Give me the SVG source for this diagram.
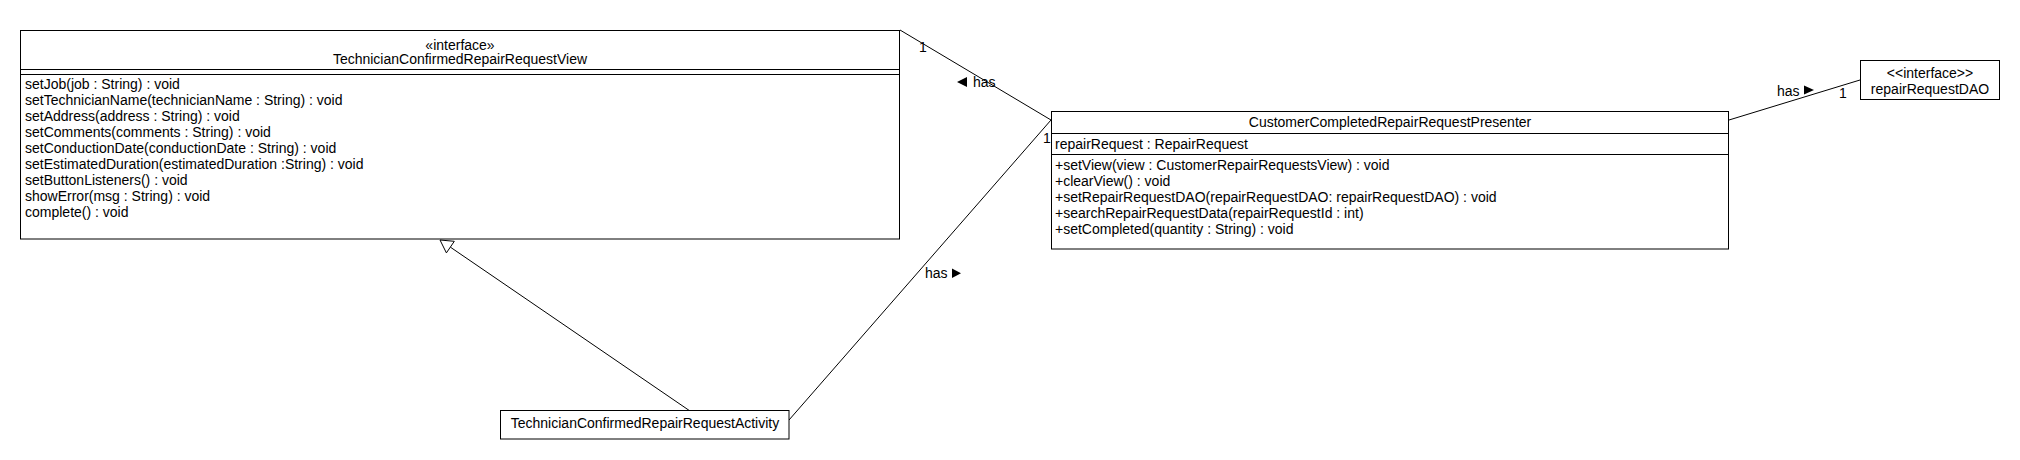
<svg xmlns="http://www.w3.org/2000/svg" width="2020" height="460" viewBox="0 0 2020 460">
<style>
.box{fill:#fff;stroke:#000;stroke-width:1}
.sep{stroke:#000;stroke-width:1}
text{font-family:"Liberation Sans",Arial,sans-serif;font-size:14px;fill:#000}
.c{text-anchor:middle}
.con{stroke:#000;stroke-width:1;fill:none}
.tri{fill:#000;stroke:none}
</style>
<rect width="2020" height="460" fill="#fff"/>
<g id="connectors">
<line class="con" x1="900" y1="30" x2="1051" y2="120"/>
<line class="con" x1="1051" y1="120" x2="789" y2="420"/>
<line class="con" x1="690" y1="411" x2="450.3" y2="247.1"/>
<polygon points="440,240 454.3,241.3 446.4,252.9" fill="#fff" stroke="#000" stroke-width="1"/>
<line class="con" x1="1729" y1="120" x2="1860" y2="80"/>
<text x="919" y="52">1</text>
<polygon class="tri" points="957,82 967,77 967,87"/>
<text x="973" y="87">has</text>
<text x="1043" y="143">1</text>
<text x="925" y="278">has</text>
<polygon class="tri" points="952,268.5 952,278 961,273.2"/>
<text x="1777" y="96">has</text>
<polygon class="tri" points="1804,85.5 1804,94.5 1814,90"/>
<text x="1839" y="98">1</text>
</g>
<g id="TechnicianConfirmedRepairRequestView">
<rect class="box" x="20.5" y="30.5" width="879" height="208.5"/>
<line class="sep" x1="20.5" y1="69.5" x2="899.5" y2="69.5"/>
<line class="sep" x1="20.5" y1="74.5" x2="899.5" y2="74.5"/>
<text class="c" x="460" y="50">«interface»</text>
<text class="c" x="460" y="64">TechnicianConfirmedRepairRequestView</text>
<text x="25" y="89">setJob(job : String) : void</text>
<text x="25" y="105">setTechnicianName(technicianName : String) : void</text>
<text x="25" y="121">setAddress(address : String) : void</text>
<text x="25" y="137">setComments(comments : String) : void</text>
<text x="25" y="153">setConductionDate(conductionDate : String) : void</text>
<text x="25" y="169">setEstimatedDuration(estimatedDuration :String) : void</text>
<text x="25" y="185">setButtonListeners() : void</text>
<text x="25" y="201">showError(msg : String) : void</text>
<text x="25" y="217">complete() : void</text>
</g>
<g id="CustomerCompletedRepairRequestPresenter">
<rect class="box" x="1051.5" y="111.5" width="677" height="137.5"/>
<line class="sep" x1="1051.5" y1="133.5" x2="1728.5" y2="133.5"/>
<line class="sep" x1="1051.5" y1="154.5" x2="1728.5" y2="154.5"/>
<text class="c" x="1390" y="127">CustomerCompletedRepairRequestPresenter</text>
<text x="1055" y="149">repairRequest : RepairRequest</text>
<text x="1055" y="170">+setView(view : CustomerRepairRequestsView) : void</text>
<text x="1055" y="186">+clearView() : void</text>
<text x="1055" y="202">+setRepairRequestDAO(repairRequestDAO: repairRequestDAO) : void</text>
<text x="1055" y="218">+searchRepairRequestData(repairRequestId : int)</text>
<text x="1055" y="234">+setCompleted(quantity : String) : void</text>
</g>
<g id="repairRequestDAO">
<rect class="box" x="1860.5" y="60.5" width="139" height="39"/>
<text class="c" x="1930" y="78">&lt;&lt;interface&gt;&gt;</text>
<text class="c" x="1930" y="94">repairRequestDAO</text>
</g>
<g id="TechnicianConfirmedRepairRequestActivity">
<rect class="box" x="500.5" y="410.5" width="288.5" height="28.5"/>
<text class="c" x="645" y="428">TechnicianConfirmedRepairRequestActivity</text>
</g>
</svg>
